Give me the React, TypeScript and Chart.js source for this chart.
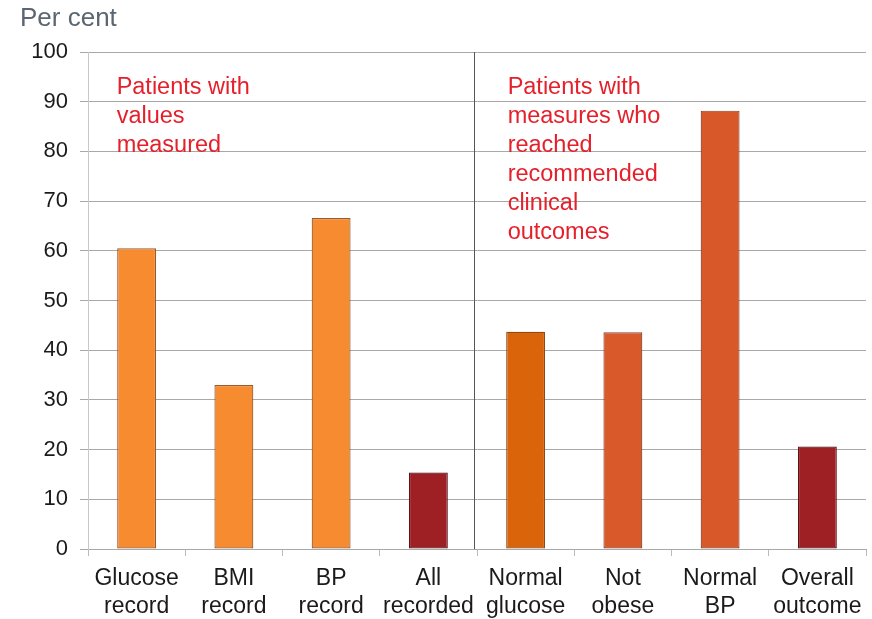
import React, { useEffect, useRef } from "react";
import { Chart, registerables } from "chart.js";

Chart.register(...registerables);

const categories: string[][] = [
  ["Glucose", "record"],
  ["BMI", "record"],
  ["BP", "record"],
  ["All", "recorded"],
  ["Normal", "glucose"],
  ["Not", "obese"],
  ["Normal", "BP"],
  ["Overall", "outcome"],
];

const values: number[] = [60.5, 33.0, 66.6, 15.4, 43.7, 43.6, 88.2, 20.6];

const barColors: string[] = [
  "#F68B2F",
  "#F68B2F",
  "#F68B2F",
  "#9E1F24",
  "#DA6409",
  "#D9592A",
  "#D9582A",
  "#9E1F24",
];

const barBorders: string[] = [
  "#9A5A2C",
  "#9A5A2C",
  "#9A5A2C",
  "#5E1416",
  "#8E4A14",
  "#8E432C",
  "#8E432C",
  "#5E1416",
];

const yTicks: number[] = [0, 10, 20, 30, 40, 50, 60, 70, 80, 90, 100];

const leftNote: string[] = ["Patients with", "values", "measured"];
const rightNote: string[] = [
  "Patients with",
  "measures who",
  "reached",
  "recommended",
  "clinical",
  "outcomes",
];

const FONT = "'Liberation Sans', Arial, sans-serif";

const overlayPlugin = {
  id: "overlay",
  afterDraw(chart: Chart) {
    const { ctx, chartArea } = chart;
    const x = chart.scales.x;
    ctx.save();

    // divider between the two groups of categories
    const divX = Math.round((x.getPixelForValue(3) + x.getPixelForValue(4)) / 2) - 2.5;
    ctx.strokeStyle = "#555555";
    ctx.lineWidth = 1;
    ctx.beginPath();
    ctx.moveTo(divX, chartArea.top);
    ctx.lineTo(divX, chartArea.bottom);
    ctx.stroke();

    // unit label
    ctx.fillStyle = "#5B6670";
    ctx.font = `26px ${FONT}`;
    ctx.textAlign = "left";
    ctx.textBaseline = "alphabetic";
    ctx.fillText("Per cent", 20, 26);

    // group notes
    ctx.fillStyle = "#E5202B";
    ctx.font = `23.5px ${FONT}`;
    const lineH = 29;
    const baseY = chartArea.top + 42;
    const lx = x.getPixelForValue(0) - 20;
    leftNote.forEach((t, i) => ctx.fillText(t, lx, baseY + i * lineH));
    const rx = x.getPixelForValue(4) - 18;
    rightNote.forEach((t, i) => ctx.fillText(t, rx, baseY + i * lineH));

    ctx.restore();
  },
};

export default function App() {
  const canvasRef = useRef<HTMLCanvasElement | null>(null);

  useEffect(() => {
    document.body.style.margin = "0";
    const canvas = canvasRef.current;
    if (!canvas) return;
    const chart = new Chart(canvas, {
      type: "bar",
      data: {
        labels: categories,
        datasets: [
          {
            data: values,
            backgroundColor: barColors,
            borderColor: barBorders,
            borderWidth: 1.2,
            borderSkipped: false,
            barPercentage: 0.4,
            categoryPercentage: 1,
          },
        ],
      },
      options: {
        animation: false,
        responsive: true,
        maintainAspectRatio: false,
        layout: { padding: { left: 0, right: 6, top: 52, bottom: 0 } },
        plugins: {
          legend: { display: false },
          tooltip: { enabled: false },
        },
        scales: {
          x: {
            grid: {
              display: true,
              drawOnChartArea: false,
              drawTicks: true,
              tickLength: 7,
              color: "#BBBBBB",
              offset: true,
            },
            border: { display: true, color: "#A8A8A8" },
            ticks: {
              color: "#1A1A1A",
              font: { family: FONT, size: 23, lineHeight: 1.22 },
              padding: 9,
              maxRotation: 0,
              autoSkip: false,
            },
            afterFit: (s: any) => {
              s.height = 70;
            },
          },
          y: {
            min: 0,
            max: 100,
            afterBuildTicks: (s: any) => {
              s.ticks = yTicks.map((v) => ({ value: v }));
            },
            grid: {
              color: "#A8A8A8",
              lineWidth: 1,
              tickLength: 8,
              drawTicks: true,
            },
            border: { display: true, color: "#C8C8C8" },
            ticks: {
              color: "#1A1A1A",
              font: { family: FONT, size: 22 },
              padding: 12,
            },
            afterFit: (s: any) => {
              s.width = 88;
            },
          },
        },
      },
      plugins: [overlayPlugin],
    });
    return () => chart.destroy();
  }, []);

  return (
    <div style={{ position: "relative", width: 872, height: 619, background: "#fff" }}>
      <canvas ref={canvasRef} />
    </div>
  );
}
